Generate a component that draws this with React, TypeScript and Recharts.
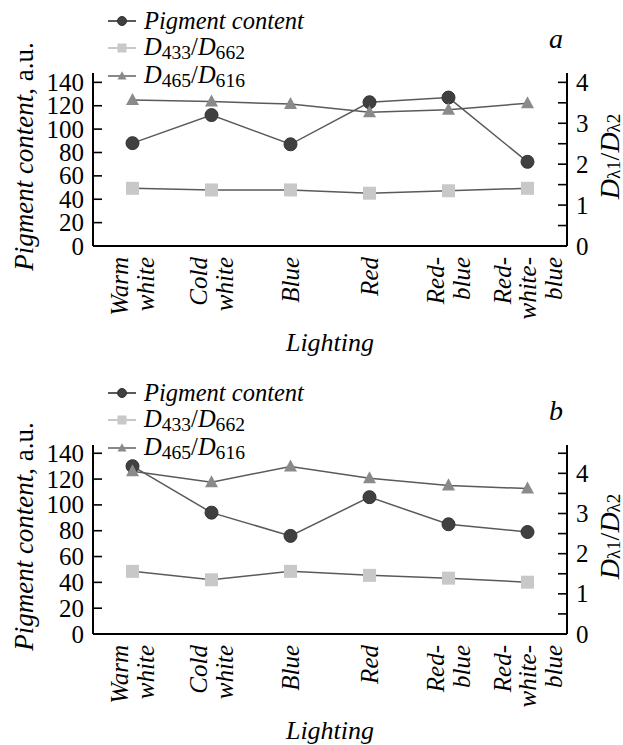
import React from 'react';
import { LineChart, Line, XAxis, YAxis, Legend } from 'recharts';

const categories = ['Warm white', 'Cold white', 'Blue', 'Red', 'Red-blue', 'Red-white-blue'];
const categoryLines: Record<string, string[]> = {
  'Warm white': ['Warm', 'white'],
  'Cold white': ['Cold', 'white'],
  Blue: ['Blue'],
  Red: ['Red'],
  'Red-blue': ['Red-', 'blue'],
  'Red-white-blue': ['Red-', 'white-', 'blue'],
};

// panel a
const pigmentA = [88, 112, 87, 123, 127, 72];
const d433A = [1.41, 1.37, 1.37, 1.29, 1.35, 1.41];
const d465A = [3.57, 3.53, 3.47, 3.27, 3.33, 3.49];

// panel b
const pigmentB = [130, 94, 76, 106, 85, 79];
const d433B = [1.56, 1.35, 1.56, 1.46, 1.39, 1.29];
const d465B = [4.05, 3.78, 4.17, 3.88, 3.7, 3.62];

const leftTicks = [0, 20, 40, 60, 80, 100, 120, 140];
const rightTicksA = [0, 0.5, 1, 1.5, 2, 2.5, 3, 3.5, 4];
const rightTicksB = [0, 0.5, 1, 1.5, 2, 2.5, 3, 3.5, 4, 4.5];

const seriesOrder = ['pigment', 'd433', 'd465'];

const FONT = '"Liberation Serif", "Times New Roman", serif';
const LINE = '#5a5a5a';

const buildRows = (pig: number[], a: number[], b: number[]) =>
  categories.map((c, i) => ({ cat: c, pigment: pig[i], d433: a[i], d465: b[i] }));

// markers: `half` is half the marker size (recharts passes its own r, so don't use that)
const Circle = (p: any) => {
  const r = p.half ?? 6.5;
  return <circle key={`c-${p.index}`} cx={p.cx} cy={p.cy} r={r} fill="#404040" stroke="#333" strokeWidth={1} />;
};
const Square = (p: any) => {
  const h = p.half ?? 6.5;
  return <rect key={`s-${p.index}`} x={p.cx - h} y={p.cy - h} width={2 * h} height={2 * h} fill="#c8c8c8" />;
};
const Triangle = (p: any) => {
  const h = p.half ?? 6.5;
  return (
    <path
      key={`t-${p.index}`}
      d={`M${p.cx},${p.cy - h * 1.08} L${p.cx + h},${p.cy + h * 0.77} L${p.cx - h},${p.cy + h * 0.77} Z`}
      fill="#8a8a8a"
    />
  );
};

const LeftTick = (p: any) => (
  <g>
    <line x1={p.x} x2={p.x + 9} y1={p.y} y2={p.y} stroke="#000" strokeWidth={1.6} />
    <text x={p.x - 9} y={p.y} textAnchor="end" dominantBaseline="central" fontFamily={FONT} fontSize={25} fill="#000">
      {p.payload.value}
    </text>
  </g>
);

const RightTick = (p: any) => (
  <g>
    <line x1={p.x} x2={p.x - 9} y1={p.y} y2={p.y} stroke="#000" strokeWidth={1.6} />
    {Number.isInteger(p.payload.value) && (
      <text x={p.x + 9} y={p.y} textAnchor="start" dominantBaseline="central" fontFamily={FONT} fontSize={25} fill="#000">
        {p.payload.value}
      </text>
    )}
  </g>
);

const XTick = (p: any) => {
  const lines = categoryLines[p.payload.value] || [p.payload.value];
  const n = lines.length;
  return (
    <g>
      {lines.map((l, i) => (
        <text
          key={i}
          transform={`translate(${p.x + (i - (n - 1) / 2) * 25.5},${p.y + 11}) rotate(-90)`}
          textAnchor="end"
          dominantBaseline="central"
          fontFamily={FONT}
          fontStyle="italic"
          fontSize={25}
          fill="#000"
        >
          {l}
        </text>
      ))}
    </g>
  );
};

const LeftTitle = (props: any) => {
  const vb = props.viewBox;
  return (
    <text
      transform={`translate(${vb.x + 24},${vb.y + vb.height / 2 - 3}) rotate(-90)`}
      textAnchor="middle"
      dominantBaseline="central"
      fontFamily={FONT}
      fontSize={27}
      fill="#000"
    >
      <tspan fontStyle="italic">Pigment content</tspan>
      <tspan>, a.u.</tspan>
    </text>
  );
};

const RightTitle = (props: any) => {
  const vb = props.viewBox;
  return (
    <text
      transform={`translate(${vb.x + 42},${vb.y + vb.height / 2 - 3}) rotate(-90)`}
      textAnchor="middle"
      dominantBaseline="central"
      fontFamily={FONT}
      fontSize={28}
      fill="#000"
    >
      <tspan fontStyle="italic">D</tspan>
      <tspan fontSize={19} dy={4}>λ1</tspan>
      <tspan dy={-4}>/</tspan>
      <tspan fontStyle="italic">D</tspan>
      <tspan fontSize={19} dy={4}>λ2</tspan>
    </text>
  );
};

const XTitle = (props: any) => {
  const vb = props.viewBox;
  return (
    <text
      x={vb.x + vb.width / 2}
      y={vb.y + 96}
      textAnchor="middle"
      dominantBaseline="central"
      fontFamily={FONT}
      fontStyle="italic"
      fontSize={26}
      fill="#000"
    >
      Lighting
    </text>
  );
};

const sub = { fontSize: '0.8em', fontStyle: 'normal' as const, verticalAlign: '-0.18em', lineHeight: 1 };
const legendLabels: Record<string, React.ReactNode> = {
  pigment: <i>Pigment content</i>,
  d433: (
    <span>
      <i>D</i>
      <span style={sub}>433</span>/<i>D</i>
      <span style={sub}>662</span>
    </span>
  ),
  d465: (
    <span>
      <i>D</i>
      <span style={sub}>465</span>/<i>D</i>
      <span style={sub}>616</span>
    </span>
  ),
};
const legendLine: Record<string, string> = { pigment: '#5a5a5a', d433: '#c8c8c8', d465: '#888' };
const legendDot: Record<string, any> = { pigment: Circle, d433: Square, d465: Triangle };

const LegendBox = (props: any) => {
  const items = [...(props.payload || [])].sort(
    (a: any, b: any) => seriesOrder.indexOf(a.dataKey) - seriesOrder.indexOf(b.dataKey)
  );
  return (
    <div style={{ fontFamily: FONT, fontSize: 24.5, color: '#000' }}>
      {items.map((e: any) => {
        const Dot = legendDot[e.dataKey];
        return (
          <div key={e.dataKey} style={{ display: 'flex', alignItems: 'center', height: 27.5, whiteSpace: 'nowrap' }}>
            <svg width={28} height={12} style={{ display: 'block' }}>
              <line x1={0} x2={28} y1={6} y2={6} stroke={legendLine[e.dataKey]} strokeWidth={2} />
              {Dot({ cx: 14, cy: 6, index: 0, half: 4.5 })}
            </svg>
            <span style={{ marginLeft: 8, lineHeight: '26px' }}>{legendLabels[e.dataKey]}</span>
          </div>
        );
      })}
    </div>
  );
};

interface PanelProps {
  top: number;
  height: number;
  plotTop: number;
  xAxisHeight: number;
  leftMax: number;
  rightMax: number;
  rightTicks: number[];
  letter: string;
  rows: any[];
}

const Panel = ({ top, height, plotTop, xAxisHeight, leftMax, rightMax, rightTicks, letter, rows }: PanelProps) => (
  <div style={{ position: 'absolute', left: 0, top, width: 623, height }}>
    <LineChart width={623} height={height} data={rows} margin={{ top: plotTop, right: 0, bottom: 0, left: 0 }}>
      <XAxis
        dataKey="cat"
        scale="band"
        interval={0}
        height={xAxisHeight}
        tickLine={false}
        tickSize={0}
        tickMargin={0}
        tick={XTick}
        axisLine={{ stroke: '#000', strokeWidth: 2 }}
        label={{ content: XTitle }}
      />
      <YAxis
        yAxisId="left"
        orientation="left"
        width={93}
        domain={[0, leftMax]}
        allowDataOverflow
        ticks={leftTicks}
        interval={0}
        tickLine={false}
        tickSize={0}
        tickMargin={0}
        tick={LeftTick}
        axisLine={{ stroke: '#000', strokeWidth: 2 }}
        label={{ content: LeftTitle }}
      />
      <YAxis
        yAxisId="right"
        orientation="right"
        width={56}
        domain={[0, rightMax]}
        allowDataOverflow
        ticks={rightTicks}
        interval={0}
        tickLine={false}
        tickSize={0}
        tickMargin={0}
        tick={RightTick}
        axisLine={{ stroke: '#000', strokeWidth: 2 }}
        label={{ content: RightTitle }}
      />
      <Legend
        layout="vertical"
        align="center"
        verticalAlign="middle"
        wrapperStyle={{ left: 108, top: 7, width: 'auto' }}
        content={LegendBox}
      />
      <Line yAxisId="left" dataKey="pigment" name="Pigment content" stroke={LINE} strokeWidth={1.5} dot={Circle} isAnimationActive={false} />
      <Line yAxisId="right" dataKey="d433" name="D433/D662" stroke={LINE} strokeWidth={1.5} dot={Square} isAnimationActive={false} />
      <Line yAxisId="right" dataKey="d465" name="D465/D616" stroke={LINE} strokeWidth={1.5} dot={Triangle} isAnimationActive={false} />
    </LineChart>
    <div
      style={{
        position: 'absolute',
        left: 549,
        top: 24,
        fontFamily: FONT,
        fontStyle: 'italic',
        fontSize: 28,
        lineHeight: '30px',
      }}
    >
      {letter}
    </div>
  </div>
);

export default function App() {
  return (
    <div style={{ position: 'absolute', left: 0, top: 0, width: 623, height: 745, background: '#fff' }}>
      <Panel
        top={0}
        height={372}
        plotTop={73}
        xAxisHeight={126}
        leftMax={148}
        rightMax={148 / 35}
        rightTicks={rightTicksA}
        letter="a"
        rows={buildRows(pigmentA, d433A, d465A)}
      />
      <Panel
        top={372}
        height={373}
        plotTop={73}
        xAxisHeight={111}
        leftMax={146.4}
        rightMax={(146.4 * 4.5) / 140}
        rightTicks={rightTicksB}
        letter="b"
        rows={buildRows(pigmentB, d433B, d465B)}
      />
    </div>
  );
}
